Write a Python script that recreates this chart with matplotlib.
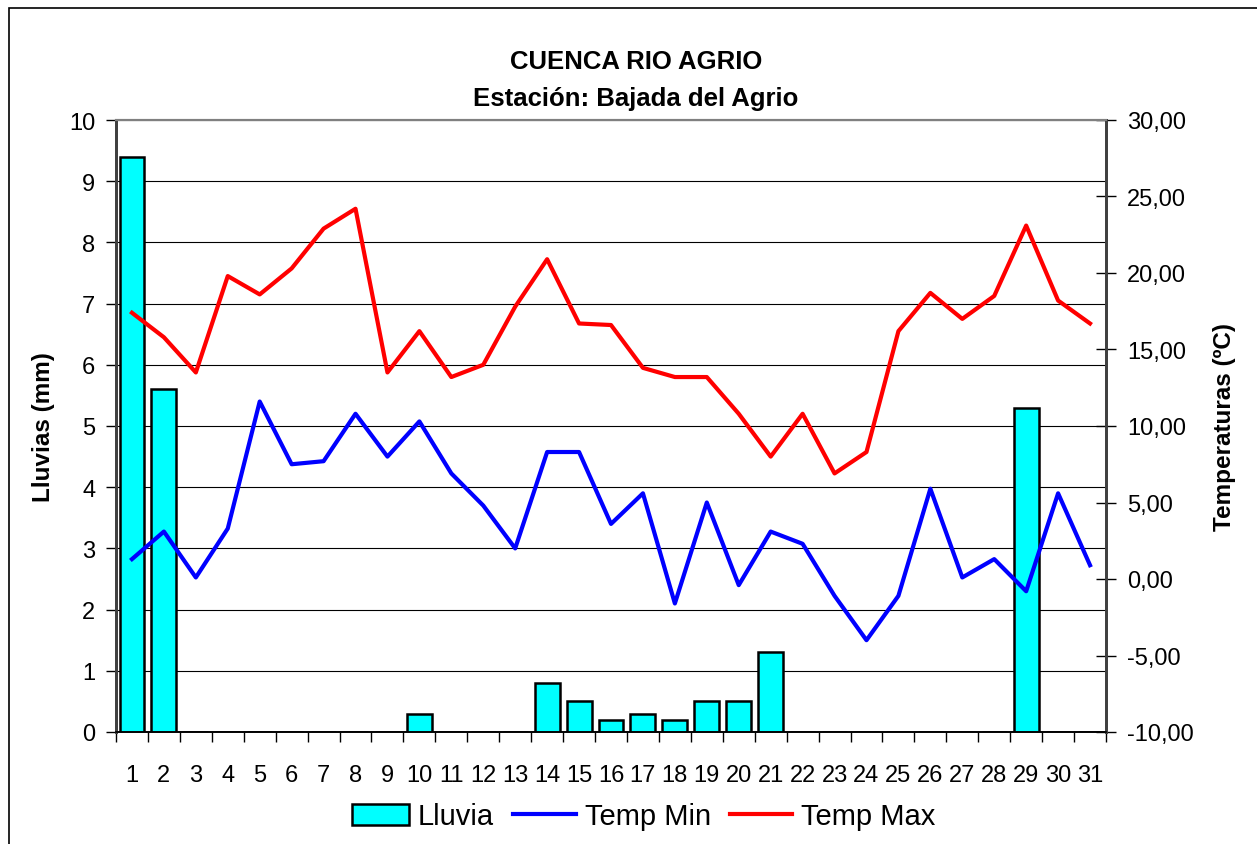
import matplotlib
matplotlib.use("Agg")
import matplotlib.pyplot as plt
from matplotlib.patches import Rectangle
from matplotlib.legend_handler import HandlerPatch
from matplotlib.ticker import FuncFormatter

plt.rcParams['font.family'] = ['Liberation Sans', 'DejaVu Sans']

# daily data
dias = list(range(1, 32))
lluvia = [9.4, 5.6, 0, 0, 0, 0, 0, 0, 0, 0.3, 0, 0, 0, 0.8, 0.5, 0.2, 0.3, 0.2,
          0.5, 0.5, 1.3, 0, 0, 0, 0, 0, 0, 0, 5.3, 0, 0]
temp_min = [1.3, 3.1, 0.1, 3.3, 11.6, 7.5, 7.7, 10.8, 8.0, 10.3, 6.9, 4.8, 2.0,
            8.3, 8.3, 3.6, 5.6, -1.6, 5.0, -0.4, 3.1, 2.3, -1.1, -4.0, -1.1,
            5.9, 0.1, 1.3, -0.8, 5.6, 0.9]
temp_max = [17.4, 15.8, 13.5, 19.8, 18.6, 20.3, 22.9, 24.2, 13.5, 16.2, 13.2,
            14.0, 17.8, 20.9, 16.7, 16.6, 13.8, 13.2, 13.2, 10.8, 8.0, 10.8,
            6.9, 8.3, 16.2, 18.7, 17.0, 18.5, 23.1, 18.2, 16.7]

fig = plt.figure(figsize=(12.57, 8.45), dpi=100)
ax = fig.add_axes([116/1257, 1 - 733/845, 990/1257, 612/845])
ax2 = ax.twinx()

# rain bars on the left axis
bars = ax.bar(dias, lluvia, width=0.78, color="#00ffff", edgecolor="black",
              linewidth=1.8, label="Lluvia", zorder=3)
ax.set_ylim(0, 10)
ax.set_yticks(range(0, 11))
ax.yaxis.grid(True, color="black", linewidth=0.8, zorder=0)
ax.set_axisbelow(True)
ax.set_xlim(0.5, 31.5)
ax.set_xticks([d + 0.5 for d in range(0, 32)])
ax.set_xticklabels([])
ax.set_xticks(dias, minor=True)
ax.set_xticklabels([str(d) for d in dias], minor=True)
ax.tick_params(axis="x", which="major", direction="out", length=7, width=1)
ax.tick_params(axis="x", which="minor", length=0, pad=23, labelsize=17)
ax.tick_params(axis="y", direction="out", length=7, width=1, labelsize=17, pad=8)
ax.set_ylabel("Lluvias (mm)", fontsize=17.5, fontweight="bold", labelpad=10)

# temperatures on the right axis
l1, = ax2.plot(dias, temp_min, color="#0000ff", linewidth=3, label="Temp Min", zorder=4)
l2, = ax2.plot(dias, temp_max, color="#ff0000", linewidth=3, label="Temp Max", zorder=4)
ax2.set_ylim(-10, 30)
ax2.set_yticks(range(-10, 31, 5))
ax2.yaxis.set_major_formatter(FuncFormatter(lambda v, p: f"{v:.2f}".replace(".", ",")))
ax2.tick_params(axis="y", direction="inout", length=14, width=1, labelsize=17, pad=8)
ax2.set_ylabel("Temperaturas (ºC)", fontsize=17.5, fontweight="bold", labelpad=14)

for a in (ax, ax2):
    a.spines["top"].set_color("#808080")
    a.spines["top"].set_linewidth(1.5)
    a.spines["left"].set_color("#404040")
    a.spines["left"].set_linewidth(2)
    a.spines["right"].set_color("#404040")
    a.spines["right"].set_linewidth(2)
    a.spines["bottom"].set_color("black")
    a.spines["bottom"].set_linewidth(1.2)

fig.text(636/1257, 1 - 62/845, "CUENCA RIO AGRIO", ha="center", va="center",
         fontsize=18.5, fontweight="bold")
fig.text(636/1257, 1 - 99/845, "Estación: Bajada del Agrio", ha="center", va="center",
         fontsize=18.5, fontweight="bold")


# legend box for the rain is a bit narrower than the line samples
def small_box(legend, orig_handle, xdescent, ydescent, width, height, fontsize):
    w = width * 0.92
    return Rectangle((xdescent + (width - w), ydescent - 1), w, height * 1.05)


fig.legend([bars[0], l1, l2], ["Lluvia", "Temp Min", "Temp Max"], loc="center",
           bbox_to_anchor=(641/1257, 1 - 817/845), ncol=3, frameon=False,
           fontsize=21, handlelength=2.15, handletextpad=0.3, columnspacing=0.65,
           handler_map={bars[0]: HandlerPatch(patch_func=small_box)})

# outer chart border (only left and top visible in the crop)
fig.patches.append(Rectangle((9/1257, -0.1), 1.2, 1 - 9/845 + 0.1,
                             transform=fig.transFigure, fill=False,
                             edgecolor="black", linewidth=1.2))

fig.savefig("out.png", dpi=100)
